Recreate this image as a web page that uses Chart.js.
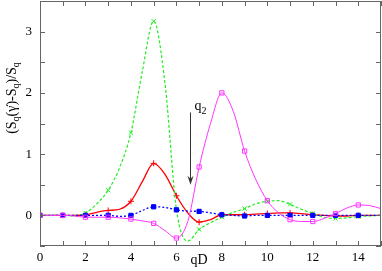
<!DOCTYPE html>
<html>
<head>
<meta charset="utf-8">
<script src="https://cdn.jsdelivr.net/npm/chart.js@4.4.0/dist/chart.umd.min.js"></script>
<style>
  html, body { margin: 0; padding: 0; background: #fff; }
  #wrap { width: 382px; height: 271px; }
</style>
</head>
<body>
<div id="wrap"><canvas id="grafica"></canvas></div>
<script>
//--------Datos
const qD = [0, 0.5, 1, 1.5, 2, 2.5, 3, 3.5, 4, 4.5, 5, 5.5, 6, 6.5, 7, 7.5,
            8, 8.5, 9, 9.5, 10, 10.5, 11, 11.5, 12, 12.5, 13, 13.5, 14, 14.5, 15]

const rojo = [0, 0, 0, 0, 0.01, 0.05, 0.08, 0.1, 0.23, 0.55, 0.85, 0.67, 0.32, 0.04, -0.11, -0.07,
              0.01, 0.01, 0.01, 0.02, 0.03, 0.04, 0.04, 0.03, 0.01, 0, -0.01, -0.01, 0, 0, 0]

const verde = [0, 0, 0, -0.01, 0.04, 0.19, 0.41, 0.78, 1.35, 2.35, 3.17, 2.15, 0.1, -0.42, -0.23, -0.12,
               -0.03, 0.05, 0.11, 0.19, 0.23, 0.24, 0.18, 0.1, 0.03, -0.03, -0.05, -0.04, -0.02, -0.01, 0]

const azul = [0, 0, 0, 0, 0, 0, 0, -0.015, 0, 0.08, 0.14, 0.13, 0.09, 0.07, 0.065, 0.04,
              0.01, 0, -0.01, 0, 0, 0, 0, 0, 0, 0, 0, 0, 0, 0, 0]

const rosa = [0, 0, 0, -0.01, -0.03, -0.03, -0.03, -0.04, -0.06, -0.09, -0.13, -0.25, -0.37, -0.1, 0.79, 1.5,
              2.0, 1.7, 1.05, 0.58, 0.24, 0.04, -0.07, -0.1, -0.1, -0.05, 0.03, 0.12, 0.17, 0.16, 0.11]

const ticksY = [-0.5, 0, 0.5, 1, 1.5, 2, 2.5, 3, 3.5]
const etiquetasY = [0, 1, 2, 3]
const etiquetasX = [0, 2, 4, 6, 8, 10, 12, 14]
const etiquetaY = ["(S", "q", "(\u03b3\u0307)-S", "q", ")/S", "q"]

function puntos(valores) {
    return qD.map((x, i) => ({ x: x, y: valores[i] }))
}

function radioMarcador(ctx) {//Solo se marcan los valores enteros de qD
    const x = qD[ctx.dataIndex]
    return (Number.isInteger(x) && x < 15) ? 3 : 0
}

//----Plugin: marco, ticks hacia dentro, etiquetas, flecha y textos
const decoracion = {
    id: 'decoracion',
    afterDraw(chart) {
        const c = chart.ctx
        const a = chart.chartArea
        const sx = chart.scales.x
        const sy = chart.scales.y

        c.save()
        c.strokeStyle = '#666'
        c.lineWidth = 1
        c.strokeRect(a.left + 0.5, a.top + 0.5, a.right - a.left - 1, a.bottom - a.top - 1)

        c.beginPath()
        for (let v = 0; v <= 15; v++) {
            const px = Math.round(sx.getPixelForValue(v)) + 0.5
            c.moveTo(px, a.bottom); c.lineTo(px, a.bottom - 5)
            c.moveTo(px, a.top); c.lineTo(px, a.top + 5)
        }
        ticksY.forEach(v => {
            const py = Math.round(sy.getPixelForValue(v)) + 0.5
            c.moveTo(a.left, py); c.lineTo(a.left + 5, py)
            c.moveTo(a.right, py); c.lineTo(a.right - 5, py)
        })
        c.stroke()

        //Etiquetas de los ejes
        c.fillStyle = '#000'
        c.font = '13px "Liberation Serif"'
        c.textBaseline = 'middle'
        c.textAlign = 'right'
        etiquetasY.forEach(v => c.fillText(String(v), a.left - 8, sy.getPixelForValue(v)))
        c.textAlign = 'center'
        etiquetasX.forEach(v => c.fillText(String(v), sx.getPixelForValue(v), a.bottom + 12))

        //Flecha q2
        const fx = Math.round(sx.getPixelForValue(6.62)) + 0.5
        const f1 = sy.getPixelForValue(1.68)
        const f2 = sy.getPixelForValue(0.5)
        c.strokeStyle = '#333'
        c.fillStyle = '#333'
        c.beginPath()
        c.moveTo(fx, f1); c.lineTo(fx, f2 - 4)
        c.stroke()
        c.beginPath()
        c.moveTo(fx, f2); c.lineTo(fx - 3, f2 - 9); c.lineTo(fx, f2 - 6); c.lineTo(fx + 3, f2 - 9)
        c.closePath()
        c.fill()

        c.fillStyle = '#000'
        c.font = '14px "Liberation Serif"'
        c.textBaseline = 'alphabetic'
        c.textAlign = 'left'
        c.fillText('q', fx + 4, f1 - 2)
        c.font = '10px "Liberation Serif"'
        c.fillText('2', fx + 11, f1 + 2)

        //Titulo eje X
        c.font = '14px "Liberation Serif"'
        c.textAlign = 'center'
        c.fillText('qD', sx.getPixelForValue(7), 264)

        //Titulo eje Y (con subindices)
        c.translate(16, 98)
        c.rotate(-Math.PI / 2)
        const grande = '14px "Liberation Serif"'
        const peque = '10px "Liberation Serif"'
        let ancho = 0
        etiquetaY.forEach((t, i) => {
            c.font = (i % 2) ? peque : grande
            ancho += c.measureText(t).width
        })
        let pos = -ancho / 2
        c.textAlign = 'left'
        etiquetaY.forEach((t, i) => {
            c.font = (i % 2) ? peque : grande
            c.fillText(t, pos, (i % 2) ? 3 : 0)
            pos += c.measureText(t).width
        })
        c.restore()
    }
}

function serie(nombre, valores, color, estilo, relleno, guion, ancho, orden) {
    return {
        label: nombre,
        data: puntos(valores),
        borderColor: color,
        backgroundColor: relleno,
        borderWidth: ancho,
        borderDash: guion,
        pointStyle: estilo,
        pointRadius: radioMarcador,
        pointBorderColor: color,
        pointBackgroundColor: relleno,
        pointBorderWidth: 1,
        cubicInterpolationMode: 'monotone',
        fill: false,
        order: orden
    }
}

window.onload = () => {
    const canvaGrafica = document.getElementById('grafica')

    new Chart(canvaGrafica, {
        type: 'line',
        data: {
            datasets: [
                serie('rosa', rosa, '#ff33ff', 'rect', 'rgba(255,255,255,0)', [], 1, 1),
                serie('azul', azul, '#0000ff', 'rect', '#0000ff', [2, 2], 1.3, 2),
                serie('verde', verde, '#22ee22', 'crossRot', '#22ee22', [3, 2], 1.2, 3),
                serie('rojo', rojo, '#ff0000', 'cross', '#ff0000', [], 1.3, 4)
            ]
        },
        options: {
            responsive: true,
            maintainAspectRatio: false,
            animation: false,
            layout: { autoPadding: false, padding: { left: 0, right: 1, top: 1, bottom: 0 } },
            plugins: {
                legend: { display: false },
                tooltip: { enabled: false }
            },
            scales: {
                x: {
                    type: 'linear',
                    min: 0,
                    max: 15,
                    afterFit: (s) => { s.height = 25 },
                    grid: { display: false },
                    border: { display: false },
                    ticks: { display: false, stepSize: 1 }
                },
                y: {
                    min: -0.5,
                    max: 3.5,
                    afterFit: (s) => { s.width = 40 },
                    grid: { display: false },
                    border: { display: false },
                    ticks: { display: false, stepSize: 0.5 }
                }
            }
        },
        plugins: [decoracion]
    })
}
</script>
</body>
</html>
